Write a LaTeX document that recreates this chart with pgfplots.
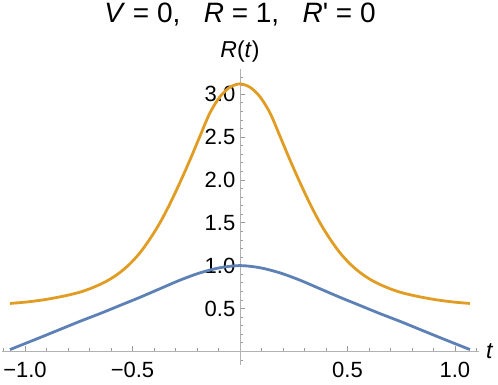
\documentclass[border=0pt]{standalone}
\usepackage{fontspec}
\setmainfont{Liberation Sans}
\newfontfamily\rawfont{Liberation Sans}[Ligatures=TeXOff]
\usepackage{pgfplots}
\pgfplotsset{compat=1.18}
\definecolor{mblue}{HTML}{5E81B5}
\definecolor{morange}{HTML}{E19C24}
\begin{document}
\begin{tikzpicture}
\begin{axis}[
  set layers,
  at={(2pt,19pt)}, anchor=south west,
  scale only axis, width=477pt, height=295.7pt,
  xmin=-1.107, xmax=1.112, ymin=-0.16, ymax=3.29,
  axis lines=middle,
  axis line style={-, draw=black!30, line width=0.8pt},
  every tick/.style={draw=black!40, line width=0.7pt},
  tick align=inside,
  major tick length=5pt, minor tick length=3pt,
  xtick={-1,-0.5,0.5,1},
  xticklabels={−1.0,−0.5,0.5,1.0},
  minor xtick={-1.1,-0.9,-0.8,-0.7,-0.6,-0.4,-0.3,-0.2,-0.1,0.1,0.2,0.3,0.4,0.6,0.7,0.8,0.9,1.1},
  ytick={0.5,1,1.5,2,2.5,3},
  yticklabels={0.5,1.0,1.5,2.0,2.5,3.0},
  minor ytick={-0.1,0.1,0.2,0.3,0.4,0.6,0.7,0.8,0.9,1.1,1.2,1.3,1.4,1.6,1.7,1.8,1.9,2.1,2.2,2.3,2.4,2.6,2.7,2.8,2.9,3.1,3.2},
  ticklabel style={font=\fontsize{22}{26}\selectfont, inner sep=0pt},
  xticklabel style={anchor=north, yshift=-11pt},
  yticklabel style={anchor=east, xshift=-4.5pt},
  xlabel={\textit{t}},
  ylabel={\textit{R}(\textit{t})},
  xlabel style={font=\fontsize{23}{27}\selectfont, at={(axis cs:1.112,0)}, anchor=west, xshift=7pt, inner sep=0pt},
  ylabel style={font=\fontsize{23}{27}\selectfont, at={(axis cs:0,3.29)}, anchor=center, yshift=18pt, inner sep=0pt},
  title={\textit{V} = 0,\ \ \ \textit{R} = 1,\ \ \ \textit{R}{\rawfont'} = 0},
  title style={font=\fontsize{28}{33}\selectfont, at={(axis cs:0,3.29)}, anchor=base, yshift=41pt, inner sep=0pt},
  clip=false,
]
\addplot[mblue, line width=2.8pt, smooth] coordinates {
(-1.07,0.02) (-1.0,0.09) (-0.93,0.16) (-0.837,0.255) (-0.744,0.35) (-0.651,0.44) (-0.558,0.535) (-0.465,0.63) (-0.372,0.73) (-0.279,0.83) (-0.186,0.915) (-0.093,0.975) (0,1.0)
(0.093,0.975) (0.186,0.915) (0.279,0.83) (0.372,0.73) (0.465,0.63) (0.558,0.535) (0.651,0.44) (0.744,0.35) (0.837,0.255) (0.93,0.16) (1.0,0.09) (1.07,0.02)
};
\addplot[morange, line width=2.8pt, smooth] coordinates {
(-1.07,0.558) (-1.0,0.573) (-0.95,0.588) (-0.9,0.606) (-0.837,0.635) (-0.791,0.66) (-0.744,0.69) (-0.698,0.73) (-0.651,0.78) (-0.605,0.84) (-0.558,0.92) (-0.512,1.02) (-0.465,1.15) (-0.419,1.31) (-0.372,1.50) (-0.326,1.72) (-0.279,1.97) (-0.233,2.23) (-0.186,2.51) (-0.14,2.78) (-0.093,2.97) (-0.047,3.08) (0,3.12)
(0.047,3.08) (0.093,2.97) (0.14,2.78) (0.186,2.51) (0.233,2.23) (0.279,1.97) (0.326,1.72) (0.372,1.50) (0.419,1.31) (0.465,1.15) (0.512,1.02) (0.558,0.92) (0.605,0.84) (0.651,0.78) (0.698,0.73) (0.744,0.69) (0.791,0.66) (0.837,0.635) (0.9,0.606) (0.95,0.588) (1.0,0.573) (1.07,0.558)
};
\end{axis}
\pgfresetboundingbox
\path[use as bounding box] (0,0) rectangle (498pt,384pt);
\end{tikzpicture}
\end{document}
